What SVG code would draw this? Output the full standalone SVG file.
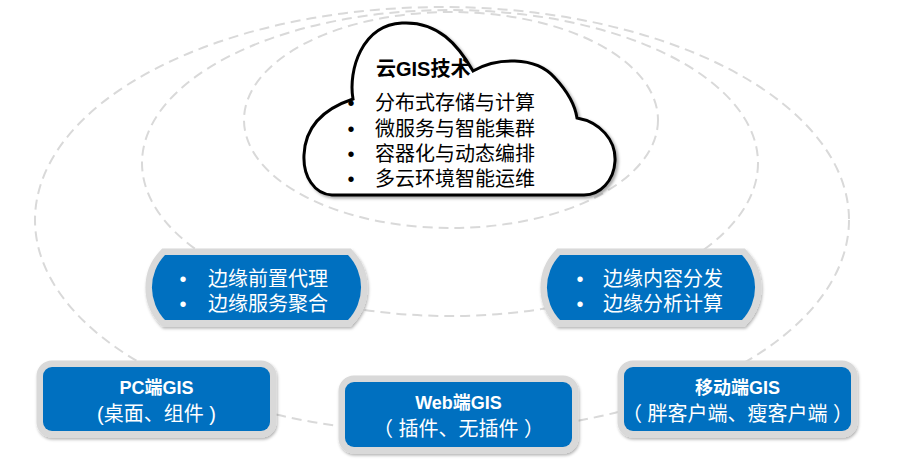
<svg xmlns="http://www.w3.org/2000/svg" width="906" height="470" viewBox="0 0 906 470">
<defs>
<filter id="sh" x="-10%" y="-10%" width="120%" height="130%">
<feDropShadow dx="1" dy="2" stdDeviation="1.5" flood-color="#000" flood-opacity="0.3"/>
</filter>
<filter id="csh" x="-10%" y="-10%" width="120%" height="130%">
<feDropShadow dx="2" dy="2" stdDeviation="1.5" flood-color="#000" flood-opacity="0.35"/>
</filter>
</defs>
<style>
.orbit{fill:none;stroke:#d9d9d9;stroke-width:2;stroke-dasharray:10 6}
.box{fill:#0070c0;stroke:#d9d9d9;stroke-width:13;paint-order:stroke;filter:url(#sh)}
.t{font-family:"Liberation Sans","Noto Sans CJK SC",sans-serif;font-size:20px}
.w{fill:#fff}
.b{font-weight:bold;font-size:18px}
.k{fill:#000}
.c{text-anchor:middle}
</style>
<rect width="906" height="470" fill="#fff"/>
<g id="connectors">
<ellipse class="orbit" cx="442" cy="220" rx="407" ry="213"/>
<ellipse class="orbit" cx="450" cy="163" rx="308" ry="153"/>
<ellipse class="orbit" cx="451" cy="120" rx="207" ry="108"/>
</g>
<g id="cloud">
<path d="M332,195 C314,194 303,176 304,155 C305,130 320,110 353,99 C348,70 362,25 402,23 C438,21 458,45 473,71 C495,58 535,55 555,78 C568,92 575,105 577,118 C600,122 616,140 615,161 C614,181 600,195 584,195 Z" fill="#fff" stroke="#000" stroke-width="3" filter="url(#csh)"/>
<text class="t k" x="376" y="76" font-weight="bold" font-size="19">云GIS技术</text>
<g class="t k">
<text x="351" y="109.5" class="c">•</text><text x="375" y="109.5">分布式存储与计算</text>
<text x="351" y="135.5" class="c">•</text><text x="375" y="135.5">微服务与智能集群</text>
<text x="351" y="161" class="c">•</text><text x="375" y="161">容器化与动态编排</text>
<text x="351" y="186" class="c">•</text><text x="375" y="186">多云环境智能运维</text>
</g>
</g>
<g id="edge-left">
<path class="box" d="M165,255 H348 A47,47 0 0 1 348,320 H165 A47,47 0 0 1 165,255 Z"/>
<g class="t w">
<text x="183" y="285.5" class="c">•</text><text x="208" y="285.5">边缘前置代理</text>
<text x="183" y="310.5" class="c">•</text><text x="208" y="310.5">边缘服务聚合</text>
</g>
</g>
<g id="edge-right">
<path class="box" d="M560,255 H742 A47,47 0 0 1 742,320 H560 A47,47 0 0 1 560,255 Z"/>
<g class="t w">
<text x="580" y="285.5" class="c">•</text><text x="603" y="285.5">边缘内容分发</text>
<text x="580" y="310.5" class="c">•</text><text x="603" y="310.5">边缘分析计算</text>
</g>
</g>
<g id="pc-gis">
<rect class="box" x="43" y="367" width="227" height="64" rx="9"/>
<text class="t w b c" x="156.5" y="393.5">PC端GIS</text>
<text class="t w c" x="156.5" y="420.5" xml:space="preserve">(桌面、组件 )</text>
</g>
<g id="web-gis">
<rect class="box" x="345" y="382" width="227" height="65" rx="9"/>
<text class="t w b c" x="458.5" y="408.5">Web端GIS</text>
<text class="t w c" x="458.5" y="435.5" xml:space="preserve">（ 插件、无插件 ）</text>
</g>
<g id="mobile-gis">
<rect class="box" x="624" y="367" width="227" height="64" rx="9"/>
<text class="t w b c" x="737.5" y="393.5">移动端GIS</text>
<text class="t w c" x="737.5" y="420.5" xml:space="preserve">（ 胖客户端、瘦客户端 ）</text>
</g>
</svg>
